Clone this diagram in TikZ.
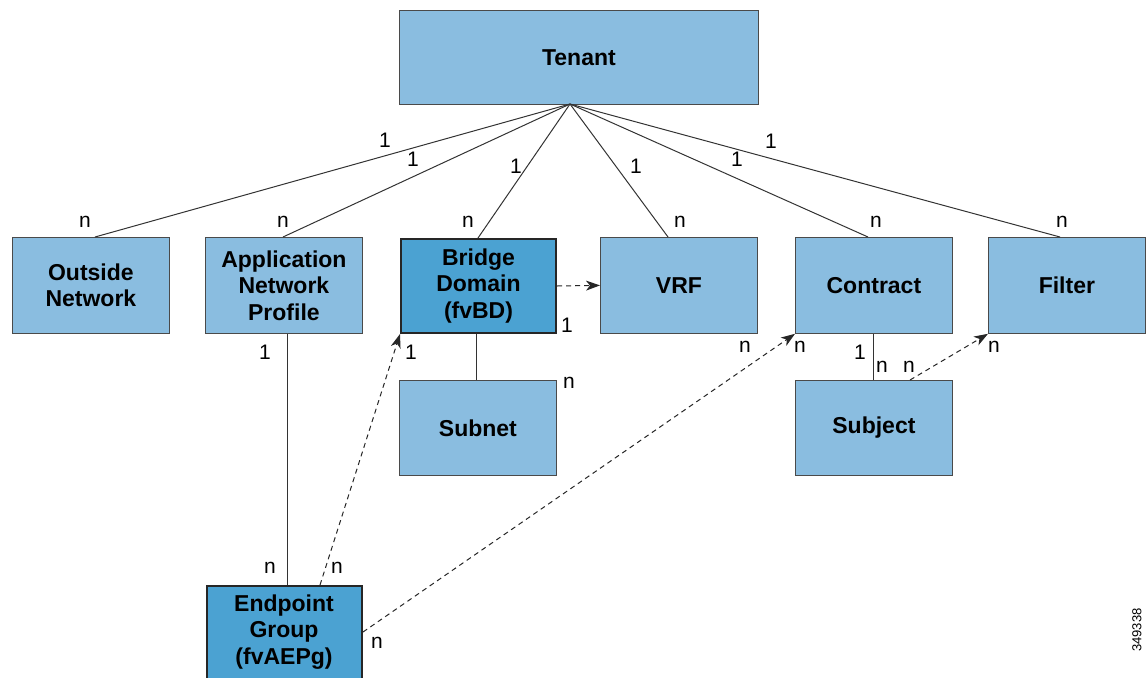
\documentclass[tikz,border=0pt]{standalone}
\usepackage{fontspec}
\setmainfont{Liberation Sans}
\usetikzlibrary{arrows.meta}
\definecolor{lightbox}{HTML}{8ABDE0}
\definecolor{darkbox}{HTML}{4BA2D2}
\definecolor{edge}{HTML}{4A4A4A}
\tikzset{
  box/.style={draw=edge, line width=0.8pt, fill=lightbox, minimum width=157pt, minimum height=96pt, align=center, font=\fontsize{23}{26.5}\selectfont\bfseries, anchor=north west, inner sep=0pt},
  darkbx/.style={box, fill=darkbox, draw=black!85, line width=2pt},
  conn/.style={draw=black!80, line width=1pt},
  dconn/.style={draw=black!85, line width=1pt, dash pattern=on 5pt off 4pt, -{Stealth[length=14pt,width=10pt,inset=4pt]}},
  lab/.style={font=\fontsize{21}{23}\selectfont, inner sep=0pt}
}
\begin{document}
\begin{tikzpicture}[x=1pt,y=-1pt]
\useasboundingbox (0,0) rectangle (1147,677);
\node[box, minimum width=359pt, minimum height=94pt] (ten) at (399,10) {Tenant};
\node[box] (out) at (12,237) {Outside\\Network};
\node[box] (anp) at (205,237) {Application\\Network\\Profile};
\node[darkbx, minimum width=155pt, minimum height=94pt] (bd) at (400,238) {Bridge\\Domain\\(fvBD)};
\node[box] (vrf) at (600,237) {VRF};
\node[box] (con) at (795,237) {Contract};
\node[box] (fil) at (988,237) {Filter};
\node[box, minimum height=95pt] (sub) at (399,380) {Subnet};
\node[box, minimum height=95pt] (sj) at (795,380) {Subject};
\node[darkbx, minimum width=155pt, minimum height=110pt] (epg) at (206,585) {};
\node[font=\fontsize{23}{26.5}\selectfont\bfseries, align=center] (epgt) at (284,632) {Endpoint\\Group\\(fvAEPg)};
\coordinate (hub) at (570,104);
% tenant links
\draw[conn] (hub) -- (95,237);
\draw[conn] (hub) -- (283,237);
\draw[conn] (hub) -- (478,238);
\draw[conn] (hub) -- (668,237);
\draw[conn] (hub) -- (868,237);
\draw[conn] (hub) -- (1060,237);
% other solid links
\draw[conn] (anp.south -| 287,0) -- (epg.north -| 287,0);
\draw[conn] (bd.south -| 476,0) -- (sub.north -| 476,0);
\draw[conn] (con.south -| 873,0) -- (sj.north -| 873,0);
% dashed
\draw[dconn] (bd.east) -- (vrf.west);
\draw[dconn] (epg.north -| 320,0) -- (bd.south west);
\draw[dconn] (epg.east |- 0,632) -- (con.south west);
\draw[dconn] (sj.north -| 910,0) -- (fil.south west);
% labels
\node[lab] (l1) at (385,140) {1};
\node[lab] (l2) at (413,159) {1};
\node[lab] (l3) at (516,166) {1};
\node[lab] (l4) at (636,166) {1};
\node[lab] (l5) at (737,159) {1};
\node[lab] (l6) at (771,141) {1};
\node[lab] (n1) at (85,222) {n};
\node[lab] (n2) at (283,222) {n};
\node[lab] (n3) at (468,222) {n};
\node[lab] (n4) at (680,222) {n};
\node[lab] (n5) at (876,222) {n};
\node[lab] (n6) at (1062,222) {n};
\node[lab] (b1) at (567,325) {1};
\node[lab] (a1) at (265,352) {1};
\node[lab] (e1) at (270,568) {n};
\node[lab] (e2) at (337,568) {n};
\node[lab] (b2) at (411,352) {1};
\node[lab] (s1) at (569,383) {n};
\node[lab] (e3) at (377,643) {n};
\node[lab] (c1) at (745,347) {n};
\node[lab] (c2) at (800,347) {n};
\node[lab] (c3) at (860,352) {1};
\node[lab] (c4) at (882,367) {n};
\node[lab] (c5) at (909,367) {n};
\node[lab] (f1) at (994,347) {n};
\node[font=\fontsize{13}{14}\selectfont, rotate=90] (num) at (1137,630) {349338};
\end{tikzpicture}
\end{document}
